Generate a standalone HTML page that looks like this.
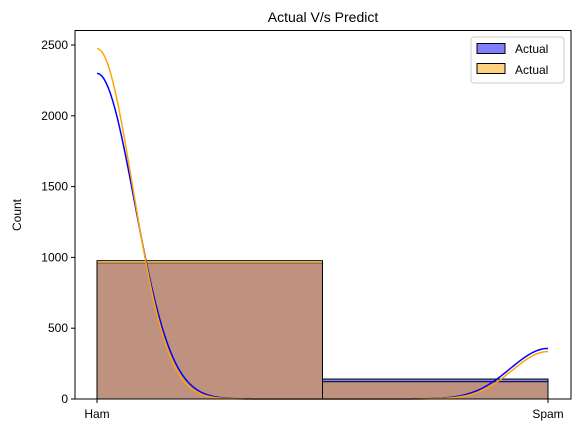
<!DOCTYPE html>
<html><head><meta charset="utf-8"><style>
body{margin:0;background:#fff}
svg{display:block;font-family:"Liberation Sans","DejaVu Sans",sans-serif}
</style></head><body>
<svg id="chart" width="580" height="433" viewBox="0 0 580 433">
<rect width="580" height="433" fill="#fff"/>
<text x="323" y="22" text-anchor="middle" font-size="14">Actual V/s Predict</text>
<g id="plot"></g>
<text transform="translate(21,215) rotate(-90)" text-anchor="middle" font-size="12">Count</text>
<rect x="75" y="30.5" width="496" height="368.5" fill="none" stroke="#000" stroke-width="1"/>
<g>
<rect x="471" y="37" width="93" height="46" rx="3" fill="#fff" fill-opacity="0.8" stroke="#ccc"/>
<rect x="477" y="43.5" width="28" height="10" fill="rgba(0,0,255,0.5)" stroke="#000"/>
<text x="515" y="53" font-size="12">Actual</text>
<rect x="477" y="63.5" width="28" height="10" fill="rgba(255,165,0,0.5)" stroke="#000"/>
<text x="515" y="74" font-size="12">Actual</text>
</g>
</svg>
<script>
const categories = ["Ham", "Spam"];
const actualCounts = [960, 141];
const predictCounts = [977, 122];
const actualKdePeaks = [2300, 357];
const predictKdePeaks = [2475, 335];
const yTicks = [0, 500, 1000, 1500, 2000, 2500];

const NS = "http://www.w3.org/2000/svg";
const g = document.getElementById("plot");
const X0 = 97, X1 = 548, Y0 = 399, PXU = 354 / 2500;
const xs = v => X0 + v * (X1 - X0);
const ys = v => Y0 - v * PXU;
function mk(t, a) { const e = document.createElementNS(NS, t); for (const k in a) e.setAttribute(k, a[k]); g.appendChild(e); return e; }

yTicks.forEach(t => {
  const l = mk("line", {x1: 71, x2: 75, y1: ys(t), y2: ys(t), stroke: "#000"});
  
  
  const tx = mk("text", {x: 68, y: ys(t) + 4, "text-anchor": "end", "font-size": 12});
  tx.textContent = t;
  
  
});
categories.forEach((c, i) => {
  const l = mk("line", {x1: xs(i), x2: xs(i), y1: 399, y2: 403, stroke: "#000"});
  
  
  const tx = mk("text", {x: xs(i), y: 418, "text-anchor": "middle", "font-size": 12});
  tx.textContent = c;
  
  
});

function bars(counts, fill, name) {
  counts.forEach((v, i) => {
    const b = mk("rect", {x: xs(i * 0.5), y: ys(v), width: xs(0.5) - xs(0), height: Y0 - ys(v), fill: fill, stroke: "#000", "stroke-width": 1});
    
    
  });
}
bars(actualCounts, "rgba(0,0,255,0.5)", "actual");
bars(predictCounts, "rgba(255,165,0,0.5)", "predict");

function kde(peaks, s, color, name) {
  let d = "";
  for (let k = 0; k <= 200; k++) {
    const x = k / 200;
    const v = peaks[0] * Math.exp(-x * x / (2 * s * s)) + peaks[1] * Math.exp(-(1 - x) * (1 - x) / (2 * s * s));
    d += (k ? "L" : "M") + xs(x).toFixed(2) + "," + ys(v).toFixed(2);
  }
  const p = mk("path", {d: d, fill: "none", stroke: color, "stroke-width": 1.5});
  
  
}
kde(actualKdePeaks, 0.083, "blue", "actual-kde-line");
kde(predictKdePeaks, 0.079, "orange", "predict-kde-line");
</script>
</body></html>
